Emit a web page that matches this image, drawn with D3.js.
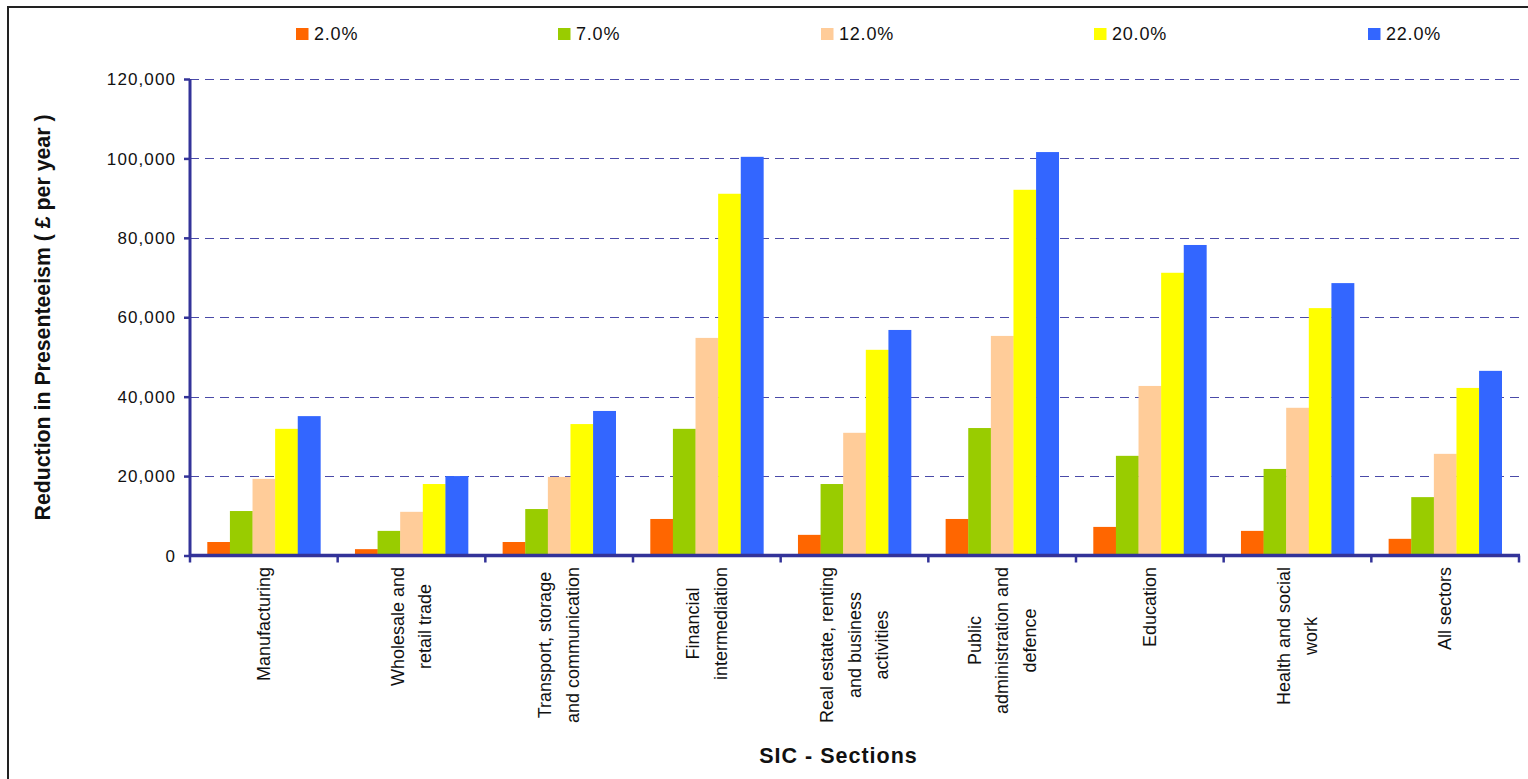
<!DOCTYPE html>
<html>
<head>
<meta charset="utf-8">
<script src="https://cdn.jsdelivr.net/npm/d3@7"></script>
<style>
  html, body { margin: 0; padding: 0; background: #fff; }
  svg { display: block; font-family: "Liberation Sans", Arial, sans-serif; }
</style>
</head>
<body>
<svg id="chart" width="1528" height="779"></svg>
<script>
// ---- data ----
const categories = [
  "Manufacturing",
  "Wholesale and retail trade",
  "Transport, storage and communication",
  "Financial intermediation",
  "Real estate, renting and business activities",
  "Public administration and defence",
  "Education",
  "Health and social work",
  "All sectors"
];
const categoryLines = [
  ["Manufacturing"],
  ["Wholesale and", "retail trade"],
  ["Transport, storage", "and communication"],
  ["Financial", "intermediation"],
  ["Real estate, renting", "and business", "activities"],
  ["Public", "administration and", "defence"],
  ["Education"],
  ["Health and social", "work"],
  ["All sectors"]
];
const seriesNames = ["2.0%", "7.0%", "12.0%", "20.0%", "22.0%"];
const values2  = [3400, 1600, 3400, 9200, 5200, 9200, 7200, 6200, 4200];
const values7  = [11200, 6200, 11700, 31900, 18000, 32100, 25100, 21800, 14700];
const values12 = [19300, 11000, 19800, 54800, 30900, 55300, 42700, 37200, 25600];
const values20 = [31900, 18000, 33100, 91100, 51800, 92100, 71200, 62300, 42200];
const values22 = [35100, 20000, 36400, 100400, 56800, 101600, 78200, 68600, 46500];
const yTicks = [0, 20000, 40000, 60000, 80000, 100000, 120000];
const yTitle = "Reduction in Presenteeism ( £ per year )";
const xTitle = "SIC - Sections";

// ---- styles / layout ----
const seriesValues = [values2, values7, values12, values20, values22];
const colors = ["#FF6600", "#99CC00", "#FFCC99", "#FFFF00", "#3366FF"];
const axisColor = "#333399";
const legendX = [296, 558, 821, 1094, 1368];
const plot = { left: 190, right: 1519, top: 79, bottom: 555.5 };

const svg = d3.select("#chart");

// frame
svg.append("rect").attr("x", 8).attr("y", 7).attr("width", 1530).attr("height", 790)
  .attr("fill", "#fff").attr("stroke", "#222").attr("stroke-width", 2);

const x0 = d3.scaleBand().domain(categories).range([plot.left, plot.right]).paddingInner(0).paddingOuter(0);
const x1 = d3.scaleBand().domain(seriesNames).range([0, x0.bandwidth()]).paddingInner(0).paddingOuter(0.765);
const y = d3.scaleLinear().domain([0, 120000]).range([plot.bottom, plot.top]);

// gridlines
svg.append("g").selectAll("line").data(yTicks.filter(d => d > 0)).join("line")
  .attr("x1", plot.left).attr("x2", plot.right)
  .attr("y1", d => Math.round(y(d)) + 0.5).attr("y2", d => Math.round(y(d)) + 0.5)
  .attr("stroke", "#4a4aa8").attr("stroke-width", 1.2).attr("stroke-dasharray", "9,6");

// bars
const groups = svg.append("g").selectAll("g").data(categories).join("g")
  .attr("transform", d => `translate(${x0(d)},0)`);
groups.selectAll("rect")
  .data((c, ci) => seriesNames.map((s, si) => ({ s, si, v: seriesValues[si][ci] })))
  .join("rect")
  .attr("x", d => x1(d.s))
  .attr("width", x1.bandwidth() + 0.3)
  .attr("y", d => y(d.v))
  .attr("height", d => y(0) - y(d.v))
  .attr("fill", d => colors[d.si]);

// y axis
const yAxis = svg.append("g").attr("transform", `translate(${plot.left},0)`)
  .call(d3.axisLeft(y).tickValues(yTicks).tickFormat(d3.format(",")).tickSize(6).tickPadding(8));
yAxis.select(".domain").attr("stroke", axisColor).attr("stroke-width", 3)
  .attr("d", `M0,${plot.top}V${plot.bottom}`);
yAxis.selectAll(".tick line").attr("stroke", axisColor).attr("stroke-width", 2.5);
yAxis.selectAll(".tick text").attr("font-size", 17).attr("letter-spacing", "1.1px")
  .attr("fill", "#111").attr("dy", "0.33em")
  .attr("font-family", "'Liberation Sans', Arial, sans-serif");

// x axis
const boundaries = categories.map(c => x0(c)).concat([plot.right]);
const xAxis = svg.append("g");
xAxis.append("line").attr("x1", plot.left).attr("x2", plot.right + 1)
  .attr("y1", plot.bottom).attr("y2", plot.bottom)
  .attr("stroke", axisColor).attr("stroke-width", 3.5);
xAxis.selectAll("line.tk").data(boundaries).join("line").attr("class", "tk")
  .attr("x1", d => d).attr("x2", d => d)
  .attr("y1", plot.bottom).attr("y2", plot.bottom + 7)
  .attr("stroke", axisColor).attr("stroke-width", 2.5);

// category labels (rotated, lines centered)
const lineGap = 27.5;
const labelTop = 567;
categories.forEach((c, ci) => {
  const lines = categoryLines[ci];
  const cx = x0(c) + x0.bandwidth() / 2;
  const g = svg.append("g");
  const texts = lines.map((ln, li) => g.append("text").text(ln)
    .attr("font-size", 18).attr("fill", "#111")
    .attr("text-anchor", "middle").attr("dominant-baseline", "central"));
  const maxLen = d3.max(texts, t => t.node().getComputedTextLength());
  const cy = labelTop + maxLen / 2;
  texts.forEach((t, li) => {
    const lx = cx + (li - (lines.length - 1) / 2) * lineGap;
    t.attr("transform", `translate(${lx},${cy}) rotate(-90)`);
  });
});

// axis titles
svg.append("text").text(xTitle)
  .attr("x", 838.5).attr("y", 763).attr("text-anchor", "middle")
  .attr("font-size", 21.5).attr("font-weight", "bold").attr("letter-spacing", "1px").attr("fill", "#111");
svg.append("text").text(yTitle)
  .attr("transform", "translate(43,317.5) rotate(-90)")
  .attr("text-anchor", "middle").attr("dominant-baseline", "central")
  .attr("font-size", 21.3).attr("font-weight", "bold").attr("fill", "#111");

// legend
const legend = svg.append("g").selectAll("g").data(seriesNames).join("g")
  .attr("transform", (d, i) => `translate(${legendX[i]},0)`);
legend.append("rect").attr("x", 0).attr("y", 28).attr("width", 12.5).attr("height", 12)
  .attr("fill", (d, i) => colors[i]);
legend.append("text").text(d => d).attr("x", 18).attr("y", 39.5)
  .attr("font-size", 18).attr("letter-spacing", "0.8px").attr("fill", "#111");
</script>
</body>
</html>
